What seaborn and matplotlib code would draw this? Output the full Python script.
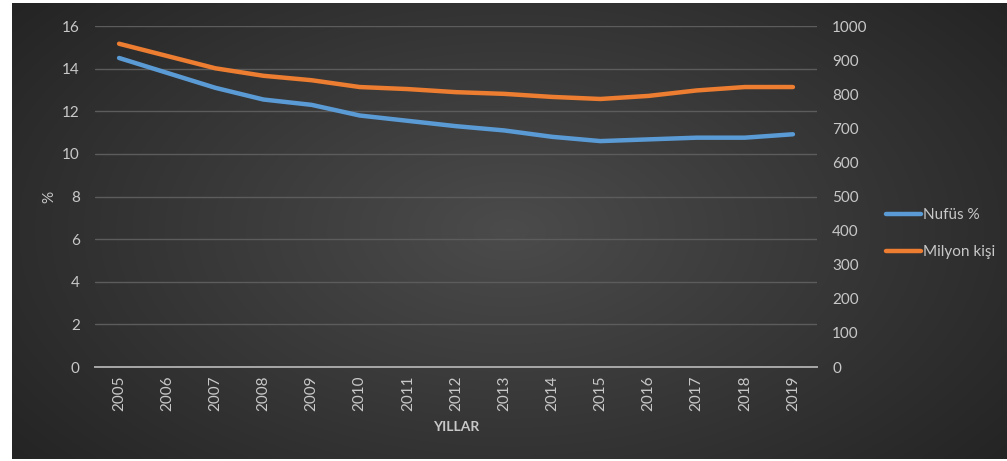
import numpy as np
import pandas as pd
import matplotlib
matplotlib.use("Agg")
import matplotlib.pyplot as plt
import matplotlib.patheffects as pe
import seaborn as sns

# --- data -------------------------------------------------------------
years = ["2005", "2006", "2007", "2008", "2009", "2010", "2011", "2012",
         "2013", "2014", "2015", "2016", "2017", "2018", "2019"]
nufus_pct = [14.5, 13.8, 13.1, 12.55, 12.3, 11.8, 11.55, 11.3,
             11.1, 10.8, 10.6, 10.68, 10.76, 10.76, 10.92]
milyon_kisi = [948, 912, 876, 854, 841, 821, 815, 806,
               801, 792, 786, 795, 811, 821, 821]
left_ticks = [0, 2, 4, 6, 8, 10, 12, 14, 16]
right_ticks = [0, 100, 200, 300, 400, 500, 600, 700, 800, 900, 1000]

df = pd.DataFrame({"Yıl": years, "Nufüs %": nufus_pct, "Milyon kişi": milyon_kisi})

# --- style ------------------------------------------------------------
sns.set_theme(style="white")
plt.rcParams["font.family"] = ["Lato", "DejaVu Sans"]
TXT = "#c8c8c8"
BLUE = "#5b9bd5"
ORANGE = "#ed7d31"
FS = 11

W, H = 1007, 461
fig = plt.figure(figsize=(W / 100, H / 100), dpi=100, facecolor="white")

# dark chart area with a soft radial highlight in the middle
bg = fig.add_axes([12 / W, 2 / H, (W - 12) / W, (H - 5) / H])
gx, gy = np.meshgrid(np.linspace(-1, 1, 600), np.linspace(-1, 1, 300))
r = np.sqrt((gx / 1.0) ** 2 + (gy / 1.25) ** 2)
shade = 0.295 - 0.15 * np.clip(r, 0, 1.25) / 1.25
bg.imshow(np.dstack([shade] * 3), aspect="auto", extent=[0, 1, 0, 1],
          interpolation="bilinear")
bg.set_axis_off()

ax = fig.add_axes([95 / W, 94 / H, 722 / W, 341 / H])
ax.set_facecolor("none")
ax2 = ax.twinx()
ax2.set_facecolor("none")

shadow = [pe.SimpleLineShadow(offset=(1.2, -1.5), shadow_color="black", alpha=0.45),
          pe.Normal()]

sns.lineplot(data=df, x="Yıl", y="Nufüs %", ax=ax, color=BLUE, linewidth=3.2,
             solid_capstyle="round", label="Nufüs %", legend=False,
             path_effects=shadow, zorder=3)
sns.lineplot(data=df, x="Yıl", y="Milyon kişi", ax=ax2, color=ORANGE, linewidth=3.2,
             solid_capstyle="round", label="Milyon kişi", legend=False,
             path_effects=shadow, zorder=3)

ax.set_xlim(-0.5, len(years) - 0.5)
ax.set_ylim(0, 16)
ax2.set_ylim(0, 1000)
ax.set_yticks(left_ticks)
ax2.set_yticks(right_ticks)
ax.set_xticks(range(len(years)))
ax.set_xticklabels(years, rotation=90)

ax.grid(axis="y", color="#5c5c5c", linewidth=1.0)
ax.grid(axis="x", visible=False)
ax2.grid(False)
for a in (ax, ax2):
    for s in a.spines.values():
        s.set_visible(False)
ax.spines["bottom"].set_visible(True)
ax.spines["bottom"].set_color("#a8a8a8")
ax.spines["bottom"].set_linewidth(1.4)

ax.tick_params(axis="x", length=0, pad=6, labelsize=FS, labelcolor=TXT)
ax.tick_params(axis="y", length=0, pad=11, labelsize=FS, labelcolor=TXT)
ax2.tick_params(axis="y", length=0, pad=11, labelsize=FS, labelcolor=TXT)

ax.set_xlabel("")
ax.set_ylabel("%", color=TXT, fontsize=FS)
ax.yaxis.set_label_coords(-0.054, 0.5)
ax2.set_ylabel("")
fig.text(456 / W, 1 - 427 / H, "YILLAR", ha="center", va="center",
         fontsize=10, fontweight="bold", color=TXT)

h1, l1 = ax.get_legend_handles_labels()
h2, l2 = ax2.get_legend_handles_labels()
for h in h1 + h2:
    h.set_path_effects([])
leg = fig.legend(h1 + h2, l1 + l2, loc="upper left",
                 bbox_to_anchor=(886 / W, 1 - 208 / H), bbox_transform=fig.transFigure,
                 frameon=False, fontsize=FS, labelcolor=TXT, handlelength=2.3,
                 handletextpad=0.1, labelspacing=1.5, borderpad=0, borderaxespad=0)

fig.savefig("out.png", dpi=100, facecolor="white")
